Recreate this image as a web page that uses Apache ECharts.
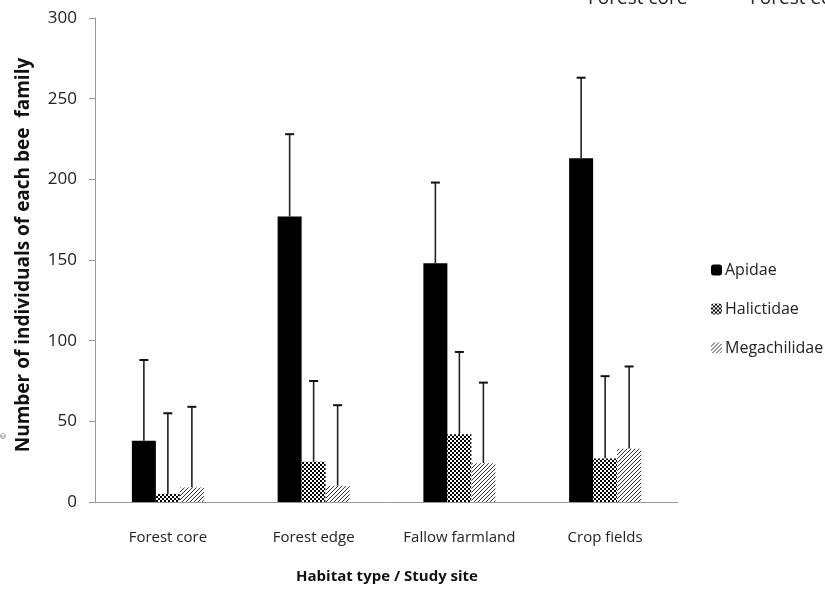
<!DOCTYPE html>
<html>
<head>
<meta charset="utf-8">
<script src="https://cdn.jsdelivr.net/npm/echarts@6/dist/echarts.min.js"></script>
<style>html,body{margin:0;padding:0;background:#fff;}#c{width:825px;height:593px;}</style>
</head>
<body>
<div id="c"></div>
<script>
const categories = ['Forest core', 'Forest edge', 'Fallow farmland', 'Crop fields'];
const apidae = [38, 177, 148, 213];
const apidaeErr = [50, 51, 50, 50];
const halictidae = [5, 25, 42, 27];
const halictidaeErr = [50, 50, 51, 51];
const megachilidae = [9, 10, 24, 33];
const megachilidaeErr = [50, 50, 50, 51];
const yTicks = [0, 50, 100, 150, 200, 250, 300];

const FONT = '"Open Sans", sans-serif';

function checker() {
  const c = document.createElement('canvas'); c.width = 4; c.height = 4;
  const g = c.getContext('2d');
  g.fillStyle = '#fff'; g.fillRect(0, 0, 4, 4);
  g.fillStyle = '#000'; g.fillRect(0, 0, 2, 2); g.fillRect(2, 2, 2, 2);
  return c;
}
function hatch() {
  const c = document.createElement('canvas'); c.width = 4; c.height = 4;
  const g = c.getContext('2d');
  g.fillStyle = '#fff'; g.fillRect(0, 0, 4, 4);
  g.fillStyle = '#333';
  for (let i = 0; i < 4; i++) { g.fillRect(3 - i, i, 1, 1); }
  return c;
}
const checkPat = { image: checker(), repeat: 'repeat' };
const hatchPat = { image: hatch(), repeat: 'repeat' };

const BW = 24;
function errSeries(vals, errs, off) {
  return {
    type: 'custom',
    silent: true,
    z: 1,
    data: vals.map((v, i) => [i, v, v + errs[i]]),
    renderItem: function (params, api) {
      const base = api.coord([api.value(0), api.value(1)]);
      const top = api.coord([api.value(0), api.value(2)]);
      const x = base[0] + off;
      return {
        type: 'group',
        children: [
          { type: 'line', shape: { x1: x, y1: base[1], x2: x, y2: top[1] }, style: { stroke: '#222', lineWidth: 1.6 } },
          { type: 'line', shape: { x1: x - 4.5, y1: top[1], x2: x + 4.5, y2: top[1] }, style: { stroke: '#111', lineWidth: 2 } }
        ]
      };
    }
  };
}

const chart = echarts.init(document.getElementById('c'), null, { renderer: 'canvas' });
chart.setOption({
  animation: false,
  backgroundColor: '#fff',
  textStyle: { fontFamily: FONT },
  grid: { left: 95, right: 147, top: 18, bottom: 91 },
  legend: {
    orient: 'vertical', left: 706, top: 257, itemWidth: 11, itemHeight: 11, itemGap: 23, align: 'left',
    textStyle: { fontFamily: FONT, fontSize: 16, color: '#222', padding: [0, 0, 0, -2] },
    data: ['Apidae', 'Halictidae', 'Megachilidae']
  },
  xAxis: {
    type: 'category', data: categories,
    axisLine: { lineStyle: { color: '#999', width: 1 } },
    axisTick: { show: false },
    axisLabel: { color: '#222', fontSize: 15, margin: 28, fontFamily: FONT }
  },
  yAxis: {
    type: 'value', min: 0, max: 300, interval: 50,
    splitLine: { show: false },
    axisLine: { show: true, lineStyle: { color: '#999', width: 1 } },
    axisTick: { show: true, length: 6, lineStyle: { color: '#999' } },
    axisLabel: { color: '#222', fontSize: 17, margin: 18, fontFamily: FONT,
      customValues: yTicks }
  },
  graphic: [
    { type: 'text', left: 588, top: -11, style: { text: 'Forest core', fontSize: 19, fontFamily: FONT, fill: '#222' } },
    { type: 'text', left: 750, top: -11, style: { text: 'Forest edge', fontSize: 19, fontFamily: FONT, fill: '#222' } },
    { type: 'text', x: 24, y: 255, rotation: Math.PI / 2, style: { text: 'Number of individuals of each bee  family', fontSize: 19, fontWeight: 'bold', fontFamily: FONT, fill: '#111', align: 'center', verticalAlign: 'middle' } },
    { type: 'text', x: 4, y: 436, rotation: Math.PI / 2, style: { text: '©', fontSize: 7, fontFamily: FONT, fill: '#333', align: 'center', verticalAlign: 'middle' } },
    { type: 'text', x: 387, y: 577, style: { text: 'Habitat type / Study site', fontSize: 15, fontWeight: 'bold', fontFamily: FONT, fill: '#111', align: 'center', verticalAlign: 'middle' } }
  ],
  series: [
    { name: 'Apidae', type: 'bar', data: apidae, barWidth: BW, barGap: '0%', itemStyle: { color: '#000' }, z: 2 },
    { name: 'Halictidae', type: 'bar', data: halictidae, barWidth: BW, barGap: '0%', itemStyle: { color: checkPat }, z: 2 },
    { name: 'Megachilidae', type: 'bar', data: megachilidae, barWidth: BW, barGap: '0%', itemStyle: { color: hatchPat }, z: 2 },
    errSeries(apidae, apidaeErr, -BW),
    errSeries(halictidae, halictidaeErr, 0),
    errSeries(megachilidae, megachilidaeErr, BW)
  ]
});
</script>
</body>
</html>
